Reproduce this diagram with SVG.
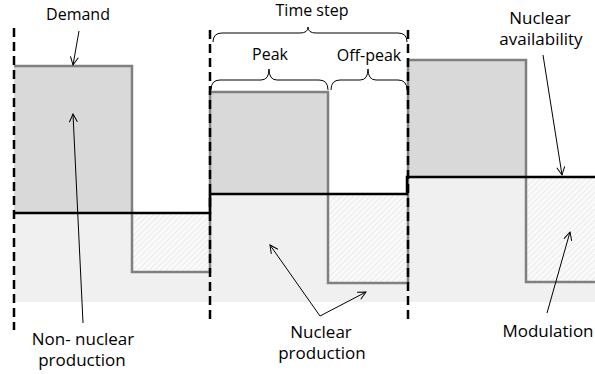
<svg xmlns="http://www.w3.org/2000/svg" width="595" height="374" viewBox="0 0 595 374">
<defs>
<pattern id="hatch" width="4" height="4" patternUnits="userSpaceOnUse" patternTransform="rotate(45)">
<rect width="4" height="4" fill="#fafafa"/>
<line x1="0" y1="0" x2="0" y2="4" stroke="#e2e2e2" stroke-width="1.2"/>
</pattern>
<marker id="arr" markerWidth="10" markerHeight="10" refX="9" refY="5" orient="auto" markerUnits="userSpaceOnUse">
<path d="M1,1 L9,5 L1,9" fill="none" stroke="#000" stroke-width="1"/>
</marker>
</defs>
<style>
text{font-family:"Open Sans","Liberation Sans",sans-serif;font-size:16px;fill:#000;text-anchor:middle}
text.lg{font-size:17px}
.dash{stroke:#000;stroke-width:2.5;stroke-dasharray:9,5;fill:none}
.brace{fill:none;stroke:#000;stroke-width:1}
.arrow{stroke:#000;stroke-width:1;fill:none;marker-end:url(#arr)}
</style>
<g id="areas">
<polygon points="14,213 210,213 210,194 408,194 408,177 595,177 595,302 14,302" fill="#f0f0f0"/>
<rect x="14" y="66" width="118" height="147" fill="#d9d9d9"/>
<rect x="210" y="92" width="118" height="102" fill="#d9d9d9"/>
<rect x="408" y="60" width="118" height="117" fill="#d9d9d9"/>
<rect x="132" y="213" width="78" height="59" fill="url(#hatch)"/>
<rect x="328" y="194" width="80" height="89" fill="url(#hatch)"/>
<rect x="526" y="177" width="69" height="105" fill="url(#hatch)"/>
</g>
<g id="demand-line">
<path d="M14,66 H132 V272 H210 V92 H328 V283 H408 V60 H526 V282 H595" fill="none" stroke="#808080" stroke-width="2.5"/>
</g>
<g id="availability-line">
<path d="M14,213 H210 V194 H407 V177 H595" fill="none" stroke="#000" stroke-width="2.5"/>
</g>
<g id="dividers">
<line class="dash" x1="14" y1="28" x2="14" y2="330"/>
<line class="dash" x1="210" y1="30" x2="210" y2="322"/>
<line class="dash" x1="408" y1="30" x2="408" y2="323"/>
</g>
<g id="braces">
<path class="brace" d="M213,42 Q213,33 222,33 H300 Q308,33 308,27 Q308,33 316,33 H398 Q407,33 407,42"/>
<path class="brace" d="M211,90 Q211,80 220,80 H261 Q269,80 269,69 Q269,80 277,80 H319 Q328,80 328,90"/>
<path class="brace" d="M331,90 Q331,80 340,80 H360 Q368,80 368,69 Q368,80 376,80 H398 Q407,80 407,90"/>
</g>
<g id="labels">
<text x="78" y="20">Demand</text>
<text x="312" y="16">Time step</text>
<text x="270" y="60">Peak</text>
<text x="369" y="61">Off-peak</text>
<text class="lg" x="540" y="24">Nuclear</text>
<text class="lg" x="541" y="45">availability</text>
<text class="lg" x="83" y="345">Non- nuclear</text>
<text class="lg" x="82" y="366">production</text>
<text class="lg" x="321" y="338">Nuclear</text>
<text class="lg" x="322" y="359">production</text>
<text class="lg" x="548" y="337">Modulation</text>
</g>
<g id="connectors">
<line class="arrow" x1="79" y1="31" x2="73" y2="65"/>
<line class="arrow" x1="83" y1="323" x2="73" y2="114"/>
<line class="arrow" x1="543" y1="55" x2="562" y2="175"/>
<line class="arrow" x1="320" y1="316" x2="270" y2="245"/>
<line class="arrow" x1="320" y1="316" x2="366" y2="292"/>
<line class="arrow" x1="547" y1="313" x2="570" y2="232"/>
</g>
</svg>
